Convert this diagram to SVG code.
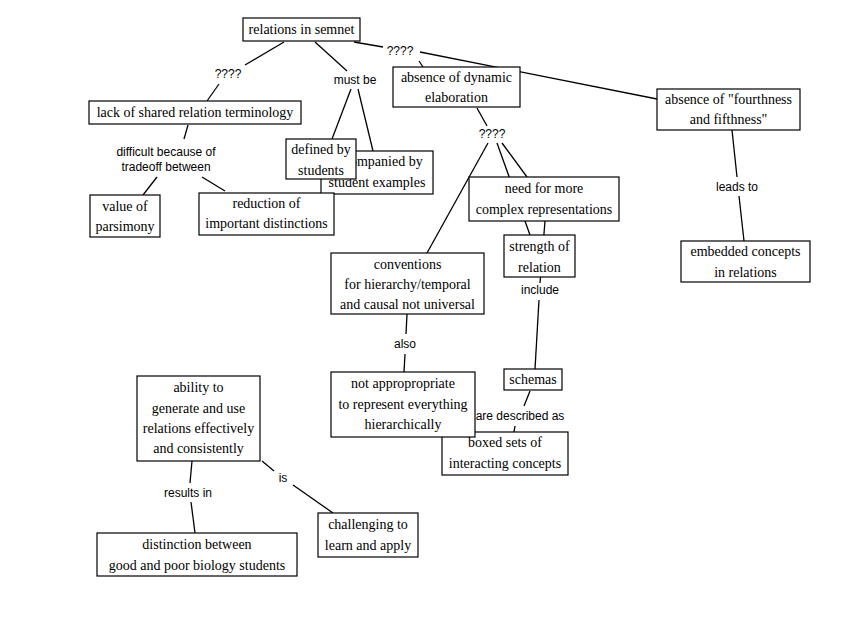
<svg xmlns="http://www.w3.org/2000/svg" width="852" height="618" viewBox="0 0 852 618">
<style>
.n rect{fill:#fff;stroke:#000;stroke-width:1.2}
.n text{font-family:"Liberation Serif","Times New Roman",serif;font-size:14px;fill:#000;text-anchor:middle}
.l{font-family:"Liberation Sans",Arial,sans-serif;font-size:12px;fill:#000;text-anchor:middle}
#connectors line{stroke:#000;stroke-width:1.3}
</style>
<rect width="852" height="618" fill="#fff"/>
<g id="connectors">
<line x1="284" y1="42" x2="245" y2="65"/>
<line x1="219" y1="84" x2="207" y2="101"/>
<line x1="315" y1="42" x2="347" y2="71"/>
<line x1="351" y1="89" x2="332" y2="139"/>
<line x1="358" y1="89" x2="373" y2="151"/>
<line x1="354" y1="42" x2="383" y2="47"/>
<line x1="420" y1="52" x2="657" y2="99"/>
<line x1="419" y1="61" x2="423" y2="67"/>
<line x1="477" y1="108" x2="487" y2="126"/>
<line x1="488" y1="143" x2="427" y2="253"/>
<line x1="497" y1="143" x2="530" y2="235"/>
<line x1="502" y1="143" x2="527" y2="177"/>
<line x1="545" y1="221" x2="540" y2="283"/>
<line x1="539" y1="300" x2="535" y2="369"/>
<line x1="188" y1="125" x2="184" y2="139"/>
<line x1="157" y1="177" x2="143" y2="195"/>
<line x1="202" y1="177" x2="225" y2="191"/>
<line x1="732" y1="130" x2="737" y2="177"/>
<line x1="739" y1="196" x2="744" y2="241"/>
<line x1="407" y1="314" x2="406" y2="334"/>
<line x1="405" y1="354" x2="404" y2="372"/>
<line x1="530" y1="391" x2="524" y2="406"/>
<line x1="515" y1="426" x2="514" y2="432"/>
<line x1="192" y1="461" x2="190" y2="483"/>
<line x1="191" y1="502" x2="195" y2="533"/>
<line x1="262" y1="461" x2="274" y2="471"/>
<line x1="293" y1="485" x2="333" y2="513"/>
<text class="l" x="228" y="78">????</text>
<text class="l" x="355" y="84">must be</text>
<text class="l" x="400" y="55">????</text>
<text class="l" x="492" y="138">????</text>
<text class="l" x="166" y="156">difficult because of</text>
<text class="l" x="166" y="171">tradeoff between</text>
<text class="l" x="737" y="191">leads to</text>
<text class="l" x="540" y="294">include</text>
<text class="l" x="405" y="348">also</text>
<text class="l" x="520" y="420">are described as</text>
<text class="l" x="188" y="497">results in</text>
<text class="l" x="283" y="482">is</text>
</g>
<g id="relations" class="n"><rect x="243" y="18" width="117" height="23"/><text x="301.5" y="34">relations in semnet</text></g>
<g id="dynamic" class="n"><rect x="393" y="67" width="127" height="40"/><text x="456.5" y="82">absence of dynamic</text><text x="456.5" y="102">elaboration</text></g>
<g id="fourthness" class="n"><rect x="657" y="89" width="143" height="41"/><text x="728.5" y="104">absence of "fourthness</text><text x="728.5" y="124">and fifthness"</text></g>
<g id="lack" class="n"><rect x="89" y="101" width="212" height="23"/><text x="195" y="117">lack of shared relation terminology</text></g>
<g id="accompanied" class="n"><rect x="321" y="151" width="112" height="43"/><text x="377" y="166">accompanied by</text><text x="377" y="187">student examples</text></g>
<g id="defined" class="n"><rect x="286" y="139" width="70" height="40"/><text x="321" y="154">defined by</text><text x="321" y="175">students</text></g>
<g id="value" class="n"><rect x="90" y="195" width="70" height="42"/><text x="125" y="211">value of</text><text x="125" y="231">parsimony</text></g>
<g id="reduction" class="n"><rect x="199" y="193" width="135" height="42"/><text x="266.5" y="208">reduction of</text><text x="266.5" y="228">important distinctions</text></g>
<g id="need" class="n"><rect x="469" y="177" width="150" height="44"/><text x="544" y="193">need for more</text><text x="544" y="214">complex representations</text></g>
<g id="strength" class="n"><rect x="504" y="235" width="71" height="42"/><text x="539.5" y="251">strength of</text><text x="539.5" y="272">relation</text></g>
<g id="embedded" class="n"><rect x="681" y="241" width="129" height="41"/><text x="745.5" y="256">embedded concepts</text><text x="745.5" y="277">in relations</text></g>
<g id="conventions" class="n"><rect x="331" y="253" width="153" height="61"/><text x="407.5" y="269">conventions</text><text x="407.5" y="289">for hierarchy/temporal</text><text x="407.5" y="309">and causal not universal</text></g>
<g id="schemas" class="n"><rect x="504" y="369" width="58" height="21"/><text x="533" y="384">schemas</text></g>
<g id="boxed" class="n"><rect x="442" y="432" width="126" height="43"/><text x="505" y="447">boxed sets of</text><text x="505" y="468">interacting concepts</text></g>
<g id="notappropriate" class="n"><rect x="331" y="372" width="144" height="65"/><text x="403" y="388">not appropropriate</text><text x="403" y="409">to represent everything</text><text x="403" y="429">hierarchically</text></g>
<g id="ability" class="n"><rect x="137" y="376" width="123" height="85"/><text x="198.5" y="392">ability to</text><text x="198.5" y="413">generate and use</text><text x="198.5" y="433">relations effectively</text><text x="198.5" y="453">and consistently</text></g>
<g id="challenging" class="n"><rect x="318" y="513" width="100" height="44"/><text x="368" y="529">challenging to</text><text x="368" y="550">learn and apply</text></g>
<g id="distinction" class="n"><rect x="97" y="533" width="200" height="43"/><text x="197" y="549">distinction between</text><text x="197" y="570">good and poor biology students</text></g>
</svg>
